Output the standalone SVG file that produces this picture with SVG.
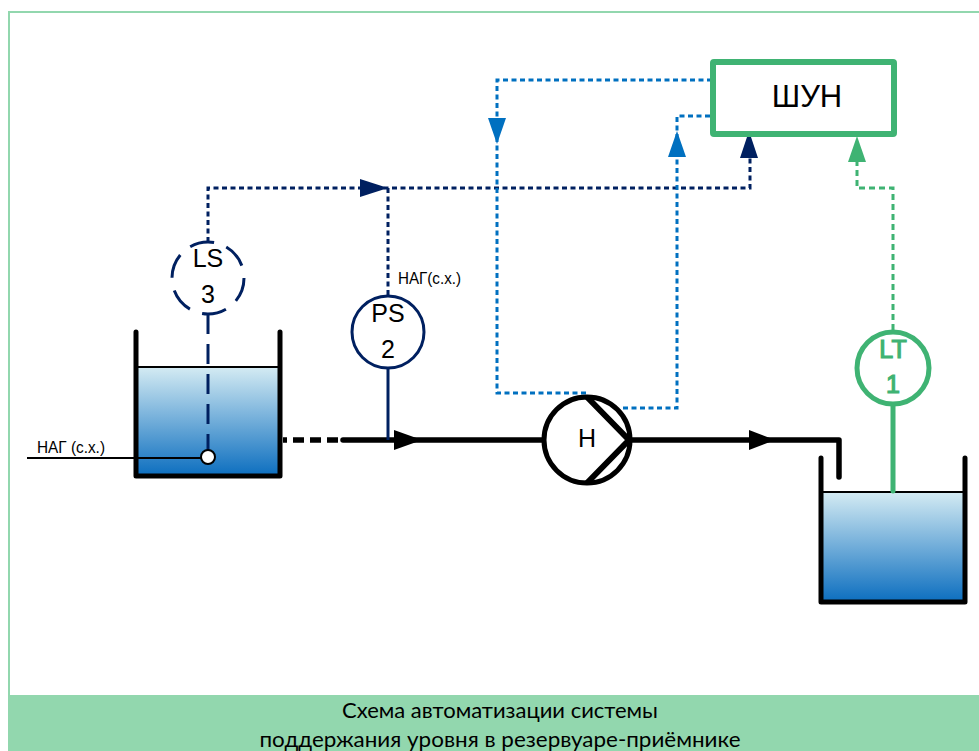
<svg xmlns="http://www.w3.org/2000/svg" width="979" height="751" viewBox="0 0 979 751">
<style>
text{font-family:"Liberation Sans",Arial,sans-serif;fill:#000;text-anchor:middle}
.wall{fill:none;stroke:#000;stroke-width:5;stroke-linejoin:round;stroke-linecap:round}
.surf{stroke:#000;stroke-width:2}
.pipe{fill:none;stroke:#000;stroke-width:5.5;stroke-linejoin:round}
.navy{fill:none;stroke:#002060;stroke-width:3;stroke-dasharray:5 3.5}
.blue{fill:none;stroke:#0070C0;stroke-width:3;stroke-dasharray:5 3.5}
.green{fill:none;stroke:#3FB373;stroke-width:3;stroke-dasharray:6 4}
.lab{font-size:25px}
.glab{fill:#3FB373;stroke:#3FB373;stroke-width:1.2}
.small{font-size:17px;text-anchor:start}
.cap{font-family:Lato,"Liberation Sans",sans-serif;font-size:21px}
</style>
<defs>
<linearGradient id="water" x1="0" y1="0" x2="0" y2="1">
<stop offset="0" stop-color="#D4EBF3"/><stop offset="1" stop-color="#0C6EBF"/>
</linearGradient>
</defs>
<g id="frame">
<path d="M9 695V12H979" fill="none" stroke="#92D7AE" stroke-width="2"/>
<rect x="8" y="695" width="971" height="56" fill="#92D7AE"/>
<text class="cap" x="500" y="718" textLength="316" lengthAdjust="spacingAndGlyphs">Схема автоматизации системы</text>
<text class="cap" x="500" y="747" textLength="481" lengthAdjust="spacingAndGlyphs">поддержания уровня в резервуаре-приёмнике</text>
</g>
<g id="connectors">
<path class="navy" d="M208 242V188H750V158"/>
<path class="navy" d="M388 188V295"/>
<path class="blue" d="M712 80H497V393H587"/>
<path class="blue" d="M710 116H677V408H620"/>
<path class="green" d="M893 330V188H857V162"/>
<path d="M283 440H343" fill="none" stroke="#000" stroke-width="5.5" stroke-dasharray="11 6" stroke-dashoffset="7"/>
<path class="pipe" d="M343 440H544" stroke-linecap="round"/>
<path class="pipe" d="M631 440H839V477" stroke-linecap="round"/>
<path d="M388 368V440" fill="none" stroke="#002060" stroke-width="3"/>
<path d="M27 458H136" fill="none" stroke="#000" stroke-width="2"/>
<path d="M360 179L388 188L360 197Z" fill="#002060"/>
<path d="M488 118H506L497 144Z" fill="#0070C0"/>
<path d="M668 157H686L677 131Z" fill="#0070C0"/>
<path d="M740 158H758L749 131Z" fill="#002060"/>
<path d="M848 162H866L857 136Z" fill="#3FB373"/>
<path d="M394 430L422 440L394 450Z" fill="#000"/>
<path d="M749 430L775 440L749 450Z" fill="#000"/>
</g>
<g id="tank1">
<rect x="136" y="367" width="144" height="109" fill="url(#water)"/>
<path class="surf" d="M136 367H280"/>
<path class="wall" d="M136 332V476H280V332"/>
<path d="M208 314V450" fill="none" stroke="#002060" stroke-width="3" stroke-dasharray="20 10"/>
<path d="M136 458H203" fill="none" stroke="#000" stroke-width="2"/>
<circle cx="208" cy="457" r="7" fill="#fff" stroke="#000" stroke-width="2"/>
<text class="small" x="37" y="453" textLength="68" lengthAdjust="spacingAndGlyphs">НАГ (с.х.)</text>
</g>
<g id="tank2">
<rect x="821" y="492" width="144" height="110" fill="url(#water)"/>
<path class="surf" d="M821 492H965"/>
<path class="wall" d="M821 458V602H965V458"/>
<path d="M893 405V491" fill="none" stroke="#3FB373" stroke-width="5" stroke-linecap="round"/>
</g>
<g id="ls3">
<circle cx="208" cy="278" r="36" fill="#fff" stroke="#002060" stroke-width="3" stroke-dasharray="24.7 13"/>
<text class="lab" x="208" y="267">LS</text>
<text class="lab" x="208" y="303">3</text>
</g>
<g id="ps2">
<circle cx="388" cy="332" r="36" fill="#fff" stroke="#002060" stroke-width="3"/>
<text class="lab" x="388" y="322">PS</text>
<text class="lab" x="388" y="358">2</text>
<text class="small" x="398" y="284" textLength="63" lengthAdjust="spacingAndGlyphs">НАГ(с.х.)</text>
</g>
<g id="lt1">
<circle cx="893" cy="368" r="36" fill="#fff" stroke="#3FB373" stroke-width="5"/>
<text class="lab glab" x="893" y="358" style="fill:#3FB373">LT</text>
<text class="lab glab" x="893" y="393" style="fill:#3FB373">1</text>
</g>
<g id="pump">
<circle cx="587" cy="440" r="43" fill="#fff" stroke="#000" stroke-width="5"/>
<path d="M587 397L629 440L587 483" fill="none" stroke="#000" stroke-width="6"/>
<text class="lab" x="587" y="447">Н</text>
</g>
<g id="shun">
<rect x="713" y="62" width="181" height="72" rx="1" fill="#fff" stroke="#3FB373" stroke-width="6" stroke-linejoin="round"/>
<text x="807" y="107" font-size="31">ШУН</text>
</g>
</svg>
